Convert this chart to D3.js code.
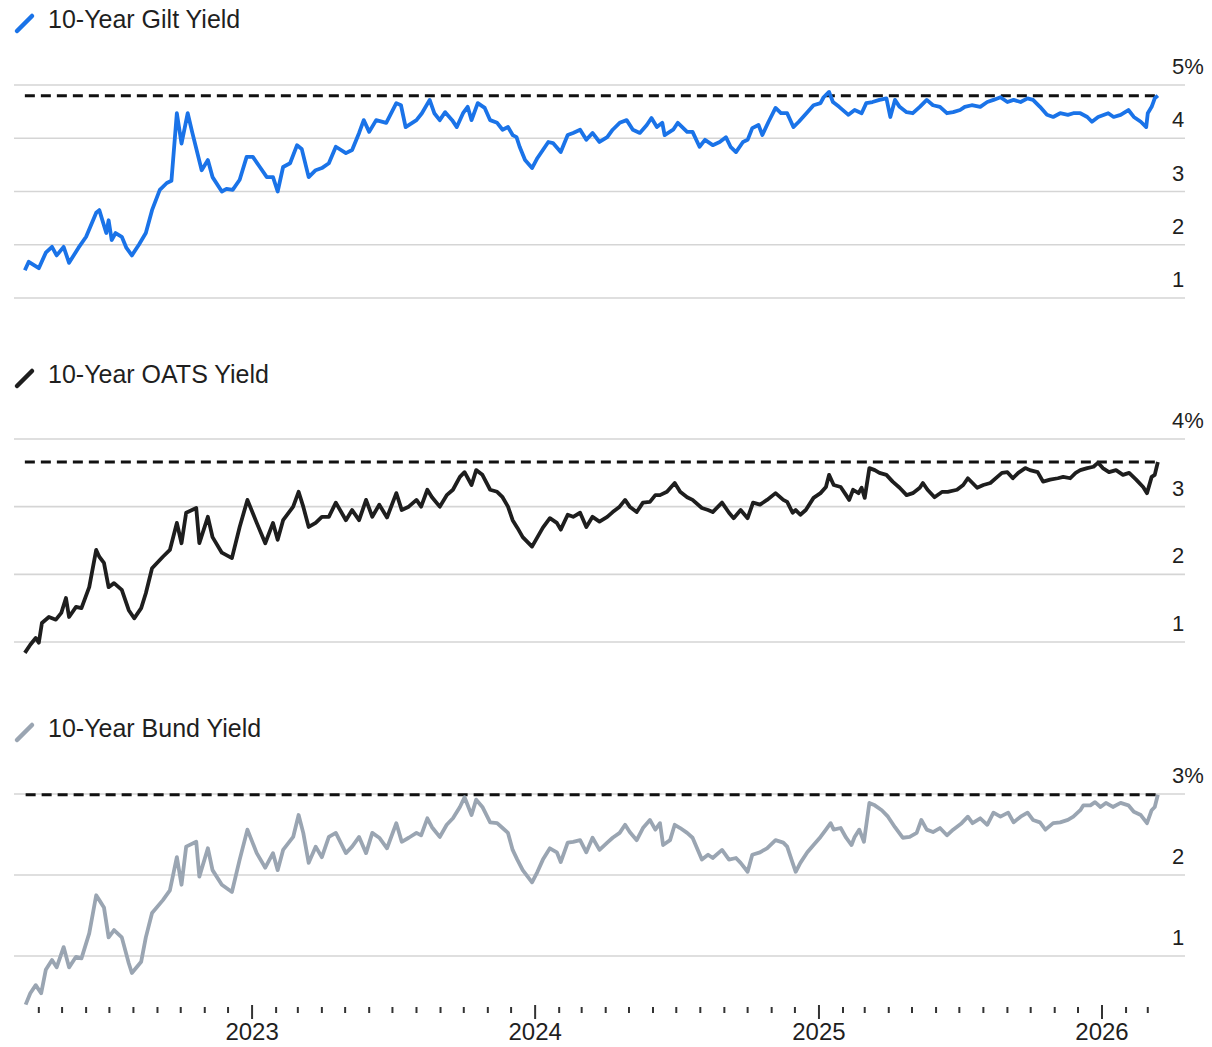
<!DOCTYPE html>
<html>
<head>
<meta charset="utf-8">
<script src="https://cdn.jsdelivr.net/npm/d3@7"></script>
<style>
  body { margin: 0; background: #fff; }
  text { font-family: "Liberation Sans", Arial, sans-serif; fill: #1f1f1f; }
</style>
</head>
<body>
<div id="chart"></div>
<script>
// yield series, [date, percent]
var gilt = [
  ["2022-03-14",1.52],["2022-03-19",1.68],["2022-04-01",1.56],["2022-04-10",1.85],["2022-04-18",1.96],["2022-04-24",1.80],
  ["2022-05-03",1.96],["2022-05-10",1.66],["2022-05-22",1.94],["2022-06-01",2.15],["2022-06-14",2.60],["2022-06-18",2.65],
  ["2022-06-27",2.22],["2022-06-30",2.46],["2022-07-04",2.09],["2022-07-09",2.22],["2022-07-17",2.15],["2022-07-23",1.94],
  ["2022-07-30",1.80],["2022-08-08",2.00],["2022-08-17",2.22],["2022-08-25",2.65],["2022-09-04",3.03],["2022-09-13",3.16],
  ["2022-09-19",3.20],["2022-09-26",4.47],["2022-10-02",3.90],["2022-10-10",4.47],["2022-10-16",4.10],["2022-10-28",3.40],
  ["2022-11-05",3.59],["2022-11-11",3.27],["2022-11-23",3.00],["2022-11-29",3.05],["2022-12-07",3.03],["2022-12-16",3.22],
  ["2022-12-25",3.65],["2023-01-02",3.65],["2023-01-11",3.46],["2023-01-20",3.27],["2023-01-28",3.27],["2023-02-03",3.00],
  ["2023-02-10",3.46],["2023-02-19",3.53],["2023-02-28",3.87],["2023-03-06",3.80],["2023-03-15",3.27],["2023-03-24",3.40],
  ["2023-04-01",3.44],["2023-04-10",3.53],["2023-04-19",3.84],["2023-05-02",3.72],["2023-05-10",3.78],["2023-05-19",4.10],
  ["2023-05-25",4.34],["2023-06-01",4.12],["2023-06-10",4.34],["2023-06-23",4.29],["2023-07-06",4.66],["2023-07-12",4.62],
  ["2023-07-18",4.21],["2023-08-01",4.34],["2023-08-08",4.47],["2023-08-18",4.72],["2023-08-24",4.47],["2023-08-31",4.34],
  ["2023-09-07",4.49],["2023-09-16",4.34],["2023-09-22",4.21],["2023-09-30",4.47],["2023-10-06",4.59],["2023-10-11",4.34],
  ["2023-10-19",4.66],["2023-10-28",4.57],["2023-11-04",4.34],["2023-11-13",4.29],["2023-11-20",4.16],["2023-11-27",4.21],
  ["2023-12-03",4.06],["2023-12-08",4.02],["2023-12-12",3.84],["2023-12-19",3.59],["2023-12-28",3.44],["2024-01-04",3.63],
  ["2024-01-11",3.78],["2024-01-18",3.93],["2024-01-24",3.91],["2024-02-03",3.74],["2024-02-12",4.06],["2024-02-19",4.10],
  ["2024-02-28",4.16],["2024-03-07",3.97],["2024-03-15",4.10],["2024-03-24",3.93],["2024-04-03",4.02],["2024-04-10",4.16],
  ["2024-04-19",4.29],["2024-04-28",4.34],["2024-05-06",4.16],["2024-05-15",4.10],["2024-05-24",4.25],["2024-05-30",4.38],
  ["2024-06-06",4.21],["2024-06-13",4.29],["2024-06-16",4.06],["2024-06-27",4.16],["2024-07-03",4.29],["2024-07-15",4.12],
  ["2024-07-22",4.12],["2024-07-31",3.84],["2024-08-07",3.97],["2024-08-17",3.87],["2024-08-26",3.93],["2024-09-03",4.02],
  ["2024-09-09",3.84],["2024-09-16",3.74],["2024-09-25",3.93],["2024-10-01",3.97],["2024-10-07",4.19],["2024-10-15",4.25],
  ["2024-10-20",4.06],["2024-10-28",4.31],["2024-11-06",4.57],["2024-11-13",4.47],["2024-11-21",4.47],["2024-11-29",4.21],
  ["2024-12-06",4.31],["2024-12-17",4.49],["2024-12-25",4.62],["2025-01-03",4.66],["2025-01-07",4.77],["2025-01-14",4.87],
  ["2025-01-19",4.68],["2025-01-27",4.59],["2025-02-08",4.44],["2025-02-16",4.53],["2025-02-25",4.47],["2025-03-03",4.66],
  ["2025-03-11",4.68],["2025-03-20",4.72],["2025-03-29",4.75],["2025-04-03",4.40],["2025-04-09",4.72],["2025-04-15",4.59],
  ["2025-04-24",4.49],["2025-05-02",4.47],["2025-05-11",4.59],["2025-05-20",4.72],["2025-05-28",4.62],["2025-06-06",4.59],
  ["2025-06-15",4.47],["2025-06-23",4.49],["2025-07-02",4.53],["2025-07-08",4.59],["2025-07-17",4.62],["2025-07-28",4.59],
  ["2025-08-06",4.68],["2025-08-14",4.72],["2025-08-23",4.77],["2025-09-01",4.68],["2025-09-09",4.72],["2025-09-18",4.68],
  ["2025-09-27",4.75],["2025-10-04",4.72],["2025-10-13",4.59],["2025-10-22",4.44],["2025-10-30",4.40],["2025-11-08",4.47],
  ["2025-11-18",4.44],["2025-11-25",4.47],["2025-12-04",4.47],["2025-12-13",4.40],["2025-12-19",4.31],["2025-12-27",4.40],
  ["2026-01-09",4.47],["2026-01-16",4.40],["2026-01-25",4.44],["2026-02-04",4.53],["2026-02-11",4.40],["2026-02-20",4.31],
  ["2026-02-27",4.21],["2026-03-01",4.47],["2026-03-06",4.59],["2026-03-10",4.75],["2026-03-14",4.80]
];

var oats = [
  ["2022-03-14",0.84],["2022-03-21",0.96],["2022-03-28",1.06],["2022-04-01",0.99],["2022-04-05",1.28],["2022-04-14",1.37],
  ["2022-04-23",1.33],["2022-04-30",1.43],["2022-05-06",1.65],["2022-05-10",1.37],["2022-05-19",1.52],["2022-05-26",1.50],
  ["2022-06-05",1.81],["2022-06-14",2.36],["2022-06-18",2.26],["2022-06-24",2.17],["2022-06-30",1.81],["2022-07-07",1.87],
  ["2022-07-17",1.77],["2022-07-26",1.47],["2022-08-02",1.35],["2022-08-11",1.50],["2022-08-17",1.72],["2022-08-25",2.09],
  ["2022-09-08",2.26],["2022-09-17",2.36],["2022-09-26",2.76],["2022-10-02",2.46],["2022-10-08",2.91],["2022-10-21",2.98],
  ["2022-10-25",2.46],["2022-11-05",2.85],["2022-11-11",2.55],["2022-11-23",2.32],["2022-12-06",2.24],["2022-12-16",2.70],
  ["2022-12-26",3.10],["2023-01-07",2.76],["2023-01-18",2.46],["2023-01-28",2.76],["2023-02-03",2.51],["2023-02-10",2.80],
  ["2023-02-23",3.00],["2023-03-02",3.22],["2023-03-08",3.00],["2023-03-15",2.70],["2023-03-24",2.76],["2023-04-01",2.85],
  ["2023-04-10",2.85],["2023-04-19",3.06],["2023-05-02",2.80],["2023-05-10",2.95],["2023-05-19",2.80],["2023-05-28",3.10],
  ["2023-06-05",2.85],["2023-06-14",3.03],["2023-06-24",2.84],["2023-07-06",3.20],["2023-07-13",2.95],["2023-07-22",3.00],
  ["2023-08-01",3.10],["2023-08-07",3.00],["2023-08-15",3.25],["2023-08-21",3.14],["2023-08-31",3.00],["2023-09-09",3.17],
  ["2023-09-17",3.25],["2023-09-26",3.44],["2023-10-02",3.51],["2023-10-11",3.32],["2023-10-17",3.54],["2023-10-25",3.47],
  ["2023-11-04",3.25],["2023-11-13",3.22],["2023-11-20",3.14],["2023-11-27",3.00],["2023-12-03",2.80],["2023-12-09",2.69],
  ["2023-12-16",2.55],["2023-12-28",2.41],["2024-01-04",2.55],["2024-01-11",2.69],["2024-01-20",2.83],["2024-01-29",2.76],
  ["2024-02-03",2.66],["2024-02-12",2.88],["2024-02-19",2.85],["2024-02-28",2.91],["2024-03-07",2.70],["2024-03-15",2.85],
  ["2024-03-24",2.78],["2024-04-03",2.85],["2024-04-10",2.92],["2024-04-19",3.00],["2024-04-26",3.10],["2024-05-02",3.00],
  ["2024-05-11",2.92],["2024-05-19",3.06],["2024-05-28",3.07],["2024-06-04",3.17],["2024-06-10",3.17],["2024-06-19",3.22],
  ["2024-06-29",3.35],["2024-07-06",3.22],["2024-07-15",3.14],["2024-07-22",3.10],["2024-08-03",2.98],["2024-08-11",2.95],
  ["2024-08-17",2.92],["2024-08-29",3.06],["2024-09-07",2.91],["2024-09-13",2.83],["2024-09-22",2.95],["2024-10-01",2.83],
  ["2024-10-08",3.06],["2024-10-17",3.03],["2024-10-26",3.10],["2024-11-06",3.20],["2024-11-16",3.10],["2024-11-21",3.07],
  ["2024-11-28",2.91],["2024-12-02",2.95],["2024-12-08",2.88],["2024-12-15",2.95],["2024-12-25",3.13],["2025-01-03",3.20],
  ["2025-01-10",3.29],["2025-01-14",3.47],["2025-01-20",3.32],["2025-01-29",3.29],["2025-02-05",3.17],["2025-02-09",3.10],
  ["2025-02-14",3.25],["2025-02-21",3.20],["2025-02-25",3.28],["2025-03-01",3.13],["2025-03-07",3.57],["2025-03-14",3.54],
  ["2025-03-20",3.50],["2025-03-29",3.47],["2025-04-06",3.37],["2025-04-15",3.28],["2025-04-24",3.17],["2025-05-02",3.20],
  ["2025-05-11",3.28],["2025-05-15",3.35],["2025-05-21",3.25],["2025-05-30",3.14],["2025-06-09",3.22],["2025-06-16",3.22],
  ["2025-06-28",3.25],["2025-07-06",3.32],["2025-07-12",3.42],["2025-07-18",3.35],["2025-07-24",3.28],["2025-08-01",3.32],
  ["2025-08-10",3.35],["2025-08-19",3.44],["2025-08-25",3.50],["2025-09-01",3.51],["2025-09-08",3.42],["2025-09-15",3.50],
  ["2025-09-24",3.57],["2025-09-30",3.54],["2025-10-10",3.51],["2025-10-17",3.37],["2025-10-26",3.40],["2025-11-05",3.42],
  ["2025-11-12",3.44],["2025-11-21",3.42],["2025-11-28",3.50],["2025-12-04",3.54],["2025-12-13",3.57],["2025-12-21",3.59],
  ["2025-12-27",3.65],["2026-01-02",3.57],["2026-01-10",3.51],["2026-01-19",3.54],["2026-01-28",3.47],["2026-02-05",3.50],
  ["2026-02-14",3.40],["2026-02-23",3.29],["2026-02-28",3.20],["2026-03-06",3.44],["2026-03-10",3.47],["2026-03-14",3.66]
];

var bund = [
  ["2022-03-15",0.40],["2022-03-21",0.54],["2022-03-28",0.64],["2022-04-04",0.54],["2022-04-10",0.83],["2022-04-18",0.95],
  ["2022-04-24",0.86],["2022-05-03",1.11],["2022-05-10",0.86],["2022-05-19",0.99],["2022-05-26",0.97],["2022-06-05",1.28],
  ["2022-06-14",1.75],["2022-06-18",1.69],["2022-06-24",1.60],["2022-06-30",1.23],["2022-07-07",1.32],["2022-07-17",1.23],
  ["2022-07-26",0.91],["2022-07-30",0.79],["2022-08-11",0.93],["2022-08-17",1.23],["2022-08-25",1.53],["2022-09-08",1.69],
  ["2022-09-17",1.81],["2022-09-26",2.22],["2022-10-02",1.88],["2022-10-08",2.35],["2022-10-21",2.41],["2022-10-25",1.98],
  ["2022-11-05",2.33],["2022-11-11",2.06],["2022-11-23",1.88],["2022-12-06",1.79],["2022-12-16",2.19],["2022-12-26",2.56],
  ["2023-01-07",2.27],["2023-01-18",2.09],["2023-01-28",2.27],["2023-02-03",2.06],["2023-02-10",2.31],["2023-02-23",2.47],
  ["2023-03-02",2.74],["2023-03-08",2.52],["2023-03-15",2.15],["2023-03-24",2.35],["2023-04-01",2.22],["2023-04-10",2.47],
  ["2023-04-19",2.52],["2023-05-02",2.27],["2023-05-10",2.35],["2023-05-19",2.47],["2023-05-28",2.27],["2023-06-05",2.52],
  ["2023-06-14",2.46],["2023-06-24",2.33],["2023-07-06",2.64],["2023-07-13",2.41],["2023-07-22",2.46],["2023-08-01",2.52],
  ["2023-08-07",2.49],["2023-08-15",2.70],["2023-08-21",2.59],["2023-08-31",2.47],["2023-09-09",2.62],["2023-09-17",2.70],
  ["2023-09-26",2.84],["2023-10-02",2.96],["2023-10-11",2.74],["2023-10-17",2.93],["2023-10-25",2.84],["2023-11-04",2.65],
  ["2023-11-13",2.64],["2023-11-20",2.58],["2023-11-27",2.52],["2023-12-03",2.31],["2023-12-09",2.19],["2023-12-16",2.06],
  ["2023-12-28",1.91],["2024-01-04",2.04],["2024-01-11",2.19],["2024-01-20",2.33],["2024-01-29",2.28],["2024-02-03",2.16],
  ["2024-02-12",2.40],["2024-02-19",2.41],["2024-02-28",2.43],["2024-03-07",2.28],["2024-03-15",2.46],["2024-03-24",2.31],
  ["2024-04-03",2.40],["2024-04-10",2.46],["2024-04-19",2.52],["2024-04-26",2.62],["2024-05-02",2.53],["2024-05-11",2.43],
  ["2024-05-19",2.58],["2024-05-28",2.68],["2024-06-04",2.56],["2024-06-10",2.64],["2024-06-14",2.37],["2024-06-23",2.43],
  ["2024-06-29",2.62],["2024-07-06",2.58],["2024-07-15",2.52],["2024-07-22",2.46],["2024-08-03",2.19],["2024-08-11",2.25],
  ["2024-08-17",2.21],["2024-08-29",2.31],["2024-09-07",2.19],["2024-09-16",2.21],["2024-09-22",2.15],["2024-10-01",2.04],
  ["2024-10-07",2.25],["2024-10-17",2.28],["2024-10-26",2.33],["2024-11-06",2.43],["2024-11-16",2.40],["2024-11-21",2.35],
  ["2024-11-28",2.15],["2024-12-02",2.04],["2024-12-08",2.15],["2024-12-17",2.28],["2024-12-25",2.37],["2025-01-03",2.47],
  ["2025-01-10",2.56],["2025-01-16",2.64],["2025-01-20",2.56],["2025-01-29",2.58],["2025-02-05",2.46],["2025-02-12",2.37],
  ["2025-02-16",2.47],["2025-02-22",2.56],["2025-02-28",2.41],["2025-03-07",2.89],["2025-03-14",2.86],["2025-03-23",2.80],
  ["2025-03-31",2.72],["2025-04-09",2.59],["2025-04-19",2.46],["2025-04-28",2.47],["2025-05-07",2.52],["2025-05-13",2.68],
  ["2025-05-20",2.56],["2025-05-28",2.53],["2025-06-06",2.58],["2025-06-15",2.49],["2025-06-23",2.56],["2025-07-04",2.64],
  ["2025-07-12",2.72],["2025-07-18",2.64],["2025-07-28",2.70],["2025-08-06",2.62],["2025-08-14",2.77],["2025-08-23",2.72],
  ["2025-09-02",2.77],["2025-09-09",2.65],["2025-09-18",2.72],["2025-09-27",2.77],["2025-10-04",2.68],["2025-10-13",2.65],
  ["2025-10-20",2.56],["2025-10-30",2.64],["2025-11-08",2.65],["2025-11-18",2.68],["2025-11-25",2.72],["2025-12-04",2.80],
  ["2025-12-08",2.86],["2025-12-17",2.86],["2025-12-23",2.90],["2025-12-30",2.84],["2026-01-06",2.89],["2026-01-15",2.84],
  ["2026-01-25",2.89],["2026-02-04",2.86],["2026-02-11",2.78],["2026-02-20",2.74],["2026-02-28",2.64],["2026-03-06",2.80],
  ["2026-03-10",2.84],["2026-03-14",2.99]
];

var titles = ["10-Year Gilt Yield", "10-Year OATS Yield", "10-Year Bund Yield"];
var giltTicks = [1, 2, 3, 4, 5];
var oatsTicks = [1, 2, 3, 4];
var bundTicks = [1, 2, 3];
var xStart = "2022-02-28", xEnd = "2026-04-18";

var width = 1212, height = 1047;
var parse = d3.timeParse("%Y-%m-%d");

var svg = d3.select("#chart").append("svg")
    .attr("width", width)
    .attr("height", height);

var x = d3.scaleTime()
    .domain([parse(xStart), parse(xEnd)])
    .range([14, 1185]);

// one entry per stacked panel; top/bottom are the pixel rows of the first and last gridline
var panels = [
  { title: titles[0], data: gilt, ticks: giltTicks, color: "#1a73e8", legendY: 28, top: 85, bottom: 298 },
  { title: titles[1], data: oats, ticks: oatsTicks, color: "#1e1e1e", legendY: 383, top: 439, bottom: 642 },
  { title: titles[2], data: bund, ticks: bundTicks, color: "#9aa5b2", legendY: 737, top: 794, bottom: 956 }
];

panels.forEach(function(p) {
    var pts = p.data.map(function(d) { return { date: parse(d[0]), value: d[1] }; });
    var y = d3.scaleLinear()
        .domain(d3.extent(p.ticks))
        .range([p.bottom, p.top]);
    var g = svg.append("g");

    // legend
    g.append("line")
        .attr("x1", 17).attr("y1", p.legendY + 3)
        .attr("x2", 32).attr("y2", p.legendY - 12)
        .style("stroke", p.color)
        .style("stroke-width", 4.5)
        .style("stroke-linecap", "round");
    g.append("text")
        .attr("x", 48).attr("y", p.legendY)
        .style("font-size", "25px")
        .text(p.title);

    // gridlines + right labels
    g.selectAll(".grid")
        .data(p.ticks)
        .enter().append("line")
        .attr("x1", 14).attr("x2", 1185)
        .attr("y1", d => y(d)).attr("y2", d => y(d))
        .style("stroke", "#d5d5d5")
        .style("stroke-width", 1.6);
    var maxTick = d3.max(p.ticks);
    g.selectAll(".ylab")
        .data(p.ticks)
        .enter().append("text")
        .attr("x", 1172)
        .attr("y", d => y(d) - 11)
        .style("font-size", "22px")
        .text(d => d === maxTick ? d + "%" : d);

    // dashed line at the latest reading
    var last = pts[pts.length - 1];
    g.append("line")
        .attr("x1", x(pts[0].date)).attr("x2", x(last.date))
        .attr("y1", y(last.value)).attr("y2", y(last.value))
        .style("stroke", "#111")
        .style("stroke-width", 3)
        .style("stroke-dasharray", "10,6");

    g.append("path")
        .datum(pts)
        .attr("d", d3.line().x(d => x(d.date)).y(d => y(d.value)))
        .style("fill", "none")
        .style("stroke", p.color)
        .style("stroke-width", 3.8)
        .style("stroke-linejoin", "round");
});

// time axis: monthly ticks, longer at each new year
var months = d3.timeMonth.range(parse("2022-04-01"), parse("2026-03-02"));
svg.selectAll(".mtick")
    .data(months)
    .enter().append("line")
    .attr("x1", d => x(d)).attr("x2", d => x(d))
    .attr("y1", d => d.getMonth() === 0 ? 1005 : 1007)
    .attr("y2", d => d.getMonth() === 0 ? 1019 : 1013)
    .style("stroke", "#333")
    .style("stroke-width", 2);

svg.selectAll(".ylabel")
    .data(months.filter(d => d.getMonth() === 0))
    .enter().append("text")
    .attr("x", d => x(d))
    .attr("y", 1040)
    .attr("text-anchor", "middle")
    .style("font-size", "24px")
    .text(d3.timeFormat("%Y"));
</script>
</body>
</html>
